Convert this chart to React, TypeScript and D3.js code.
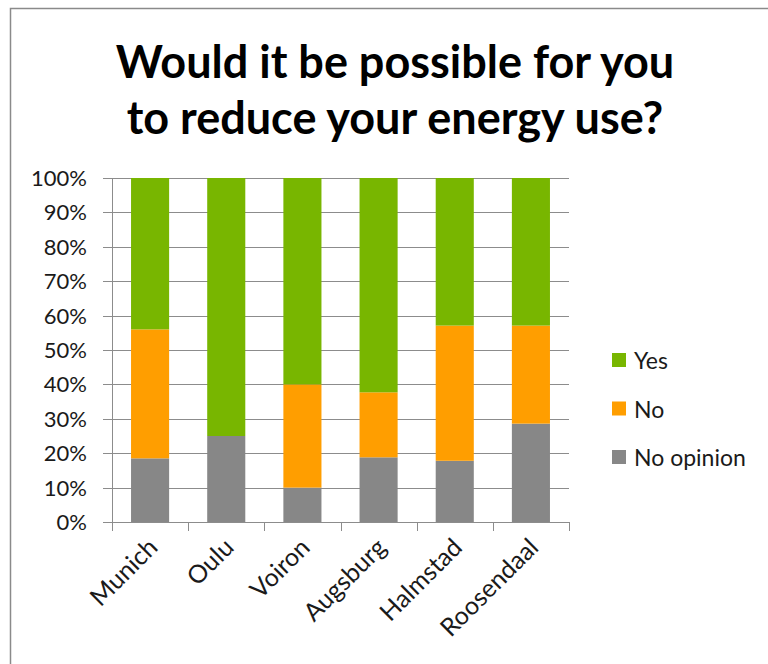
import React from "react";
import * as d3 from "d3";

const categories = ["Munich", "Oulu", "Voiron", "Augsburg", "Halmstad", "Roosendaal"];
const noOpinion = [18.5, 25, 10, 18.8, 17.8, 28.6];
const no = [37.5, 0, 30, 18.9, 39.3, 28.5];
const yes = [44, 75, 60, 62.3, 42.9, 42.9];
const seriesNames = ["No opinion", "No", "Yes"];
const yTicks = [0, 10, 20, 30, 40, 50, 60, 70, 80, 90, 100];
const titleLines = ["Would it be possible for you", "to reduce your energy use?"];

const colors: Record<string, string> = {
  Yes: "#78b600",
  No: "#ff9e00",
  "No opinion": "#878787",
};

const W = 768;
const H = 664;
const plot = { left: 112, right: 569, top: 178, bottom: 522 };
const FONT = "Lato, 'Open Sans', sans-serif";

export default function App() {
  const rows = categories.map((c, i) => ({
    category: c,
    "No opinion": noOpinion[i],
    No: no[i],
    Yes: yes[i],
  }));

  const stacked = d3.stack<any>().keys(seriesNames)(rows);

  const x = d3
    .scaleBand<string>()
    .domain(categories)
    .range([plot.left, plot.right])
    .paddingInner(0.5)
    .paddingOuter(0.25);

  const y = d3.scaleLinear().domain([0, 100]).range([plot.bottom, plot.top]);

  const boundaries = d3.range(categories.length + 1).map((i) => plot.left + i * x.step());

  const legendOrder = ["Yes", "No", "No opinion"];

  return (
    <svg
      width={W}
      height={H}
      style={{ position: "absolute", left: 0, top: 0, background: "#fff" }}
      fontFamily={FONT}
    >
      {/* chart frame */}
      <path d={`M10.5,${H} V8.5 H${W}`} fill="none" stroke="#8a8a8a" strokeWidth={1.5} />

      {/* title */}
      <g fontWeight={700} fontSize={45} fill="#000" textAnchor="middle">
        {titleLines.map((t, i) => (
          <text key={t} x={395} y={78 + i * 56}>
            {t}
          </text>
        ))}
      </g>

      {/* horizontal gridlines and tick marks */}
      <g stroke="#8c8c8c" strokeWidth={1}>
        {yTicks.map((v) => (
          <line
            key={v}
            x1={plot.left - 9}
            x2={plot.right}
            y1={Math.round(y(v)) + 0.5}
            y2={Math.round(y(v)) + 0.5}
          />
        ))}
        <line x1={plot.left + 0.5} x2={plot.left + 0.5} y1={plot.top} y2={plot.bottom + 9} />
        {boundaries.map((bx, i) => (
          <line
            key={i}
            x1={Math.round(bx) + 0.5}
            x2={Math.round(bx) + 0.5}
            y1={plot.bottom}
            y2={plot.bottom + 9}
          />
        ))}
      </g>

      {/* y labels */}
      <g fontSize={22} fill="#1a1a1a" textAnchor="end">
        {yTicks.map((v) => (
          <text key={v} x={87} y={y(v) + 8}>
            {`${v}%`}
          </text>
        ))}
      </g>

      {/* stacked bars */}
      {stacked.map((s) => (
        <g key={s.key} fill={colors[s.key]}>
          {s.map((d, i) => (
            <rect
              key={i}
              x={x(categories[i])}
              width={x.bandwidth()}
              y={y(d[1])}
              height={y(d[0]) - y(d[1])}
            />
          ))}
        </g>
      ))}

      {/* x labels */}
      <g fontSize={25} fill="#1a1a1a" textAnchor="end">
        {categories.map((c) => {
          const cx = (x(c) as number) + x.bandwidth() / 2 + 9;
          const cy = plot.bottom + 27;
          return (
            <text key={c} transform={`translate(${cx},${cy}) rotate(-45)`}>
              {c}
            </text>
          );
        })}
      </g>

      {/* legend */}
      <g fontSize={23} fill="#1a1a1a">
        {legendOrder.map((k, i) => (
          <g key={k} transform={`translate(612,${353 + i * 48.5})`}>
            <rect width={14} height={14} fill={colors[k]} />
            <text x={22} y={16}>
              {k}
            </text>
          </g>
        ))}
      </g>
    </svg>
  );
}
